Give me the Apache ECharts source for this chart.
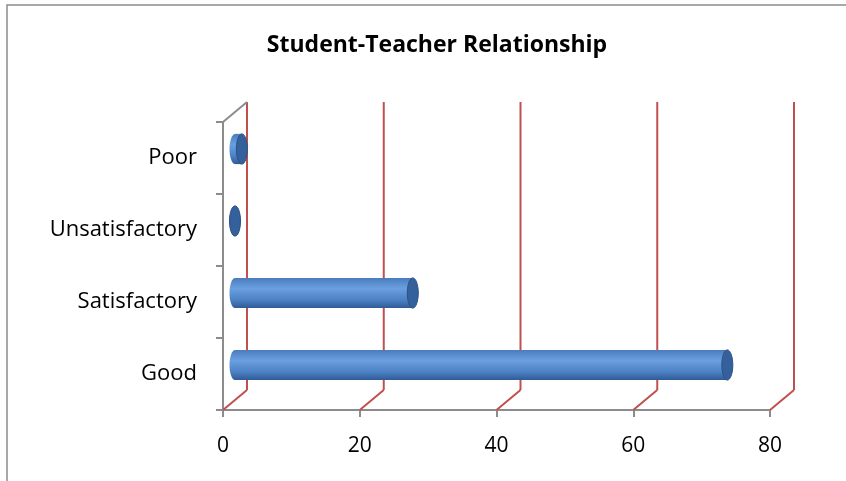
<!DOCTYPE html>
<html>
<head>
<meta charset="utf-8">
<script src="https://cdn.jsdelivr.net/npm/echarts@6/dist/echarts.min.js"></script>
<style>
  html, body { margin: 0; padding: 0; background: #fff; }
  #main { width: 846px; height: 481px; }
</style>
</head>
<body>
<div id="main"></div>
<script>
// 数据
var categories = ['Good', 'Satisfactory', 'Unsatisfactory', 'Poor'];
var values = [72, 26, 0, 1];
var xTicks = [0, 20, 40, 60, 80];

// 3D 进深偏移
var DEPTH_X = 24, DEPTH_Y = -20;
var FONT = '"Open Sans", "Liberation Sans", sans-serif';

var chart = echarts.init(document.getElementById('main'));

// 圆柱形的条
function renderBar(params, api) {
  var v = api.value(0), cat = api.value(1);
  var start = api.coord([0, cat]);
  var end = api.coord([v, cat]);
  var h = api.size([0, 1])[1] * 0.42;
  var x0 = start[0] + DEPTH_X / 2, x1 = end[0] + DEPTH_X / 2;
  var yc = start[1] - 9;
  var rx = 5.5;
  var body = new echarts.graphic.LinearGradient(0, 0, 0, 1, [
    { offset: 0, color: '#4a7bbd' },
    { offset: 0.35, color: '#6aa0e0' },
    { offset: 0.75, color: '#4a7fc2' },
    { offset: 1, color: '#2f5a94' }
  ]);
  return {
    type: 'group',
    children: [
      { type: 'ellipse', shape: { cx: x0, cy: yc, rx: rx, ry: h / 2 }, style: { fill: body } },
      { type: 'rect', shape: { x: x0, y: yc - h / 2, width: Math.max(x1 - x0, 0), height: h }, style: { fill: body } },
      { type: 'ellipse', shape: { cx: x1, cy: yc, rx: rx, ry: h / 2 }, style: { fill: '#34609c', stroke: '#2c5285', lineWidth: 1 } }
    ]
  };
}

// 背景的红色网格线和斜线
function renderFrame(params, api) {
  var cs = params.coordSys;
  var top = cs.y, bottom = cs.y + cs.height;
  var x = api.coord([api.value(0), 0])[0];
  var red = { stroke: '#c0504d', lineWidth: 2 };
  var children = [
    { type: 'line', shape: { x1: x, y1: bottom, x2: x + DEPTH_X, y2: bottom + DEPTH_Y }, style: red },
    { type: 'line', shape: { x1: x + DEPTH_X, y1: bottom + DEPTH_Y, x2: x + DEPTH_X, y2: top + DEPTH_Y }, style: red }
  ];
  if (params.dataIndex === 0) {
    children.push({ type: 'line', shape: { x1: x, y1: top, x2: x + DEPTH_X, y2: top + DEPTH_Y }, style: { stroke: '#8c8c8c', lineWidth: 2 } });
  }
  return { type: 'group', children: children };
}

var option = {
  animation: false,
  title: {
    text: 'Student-Teacher Relationship',
    left: 432, top: 29, textAlign: 'center',
    textStyle: { fontFamily: FONT, fontSize: 23, fontWeight: 'bold', color: '#000' }
  },
  graphic: [
    { type: 'rect', shape: { x: 7, y: 5, width: 900, height: 600 }, style: { fill: 'none', stroke: '#8c8c8c', lineWidth: 1.5 }, z: -1 }
  ],
  grid: { left: 223, right: 76, top: 122, bottom: 71 },
  xAxis: {
    type: 'value', min: 0, max: 80, interval: 20,
    axisLine: { show: true, lineStyle: { color: '#8c8c8c', width: 2 } },
    axisTick: { show: true, length: 7, lineStyle: { color: '#8c8c8c', width: 2 } },
    splitLine: { show: false },
    axisLabel: { fontFamily: FONT, fontSize: 21, color: '#000', margin: 26 }
  },
  yAxis: {
    type: 'category', data: categories,
    axisLine: { show: true, lineStyle: { color: '#8c8c8c', width: 2 } },
    axisTick: { show: true, length: 7, lineStyle: { color: '#8c8c8c', width: 2 } },
    axisLabel: { fontFamily: FONT, fontSize: 22, color: '#000', margin: 26, padding: [8, 0, 0, 0] }
  },
  series: [
    {
      type: 'custom', renderItem: renderFrame, clip: false, z: 1,
      data: xTicks.map(function (t) { return [t]; })
    },
    {
      type: 'custom', renderItem: renderBar, clip: false, z: 3,
      encode: { x: 0, y: 1 },
      data: values.map(function (v, i) { return [v, i]; })
    }
  ]
};
chart.setOption(option);
</script>
</body>
</html>
